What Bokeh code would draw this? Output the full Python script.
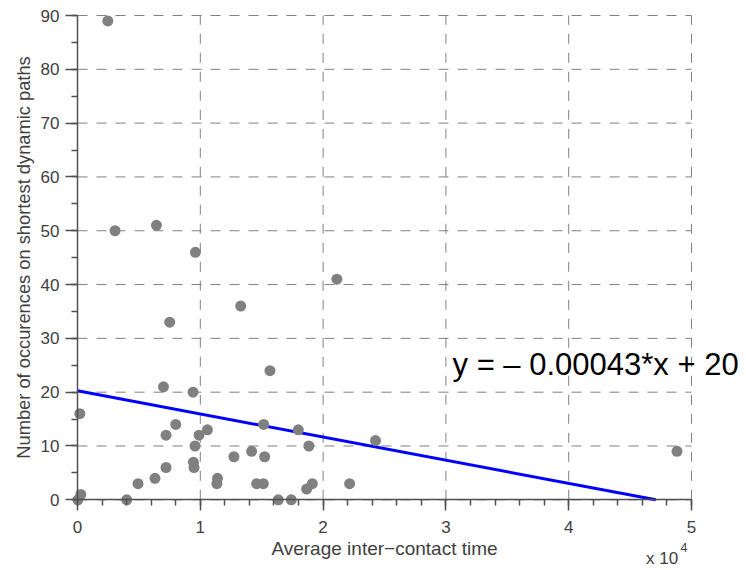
from bokeh.plotting import figure
from bokeh.models import Range1d, FixedTicker, Label, ColumnDataSource
from bokeh.embed import file_html
from bokeh.resources import INLINE

# ---- data ----
inter_contact_time = [2470, 3060, 6430, 9600, 21120, 13290, 7510, 15670, 7000, 9410,
                      190, 8000, 7210, 10580, 9900, 9570, 9440, 9490, 7210, 6310,
                      4930, 4010, 270, 30, 11350, 11400, 15160, 17980, 18840, 12740,
                      14180, 15240, 14590, 15130, 16350, 17410, 18660, 19120, 22160,
                      24270, 48820]
occurrences = [89, 50, 51, 46, 41, 36, 33, 24, 21, 20,
               16, 14, 12, 13, 12, 10, 7, 6, 6, 4,
               3, 0, 1, 0, 3, 4, 14, 13, 10, 8,
               9, 8, 3, 3, 0, 0, 2, 3, 3,
               11, 9]
fit_slope = -0.00043
fit_intercept = 20.25
equation_text = "y = \u2013 0.00043*x + 20"
x_ticks = [0, 10000, 20000, 30000, 40000, 50000]
x_tick_labels = ["0", "1", "2", "3", "4", "5"]
y_ticks = [0, 10, 20, 30, 40, 50, 60, 70, 80, 90]
x_label = "Average inter\u2212contact time"
y_label = "Number of occurences on shortest dynamic paths"
exponent_base = "x 10"
exponent_power = "4"

FONT = "Liberation Sans"
TICK_COLOR = "#404040"
AXIS_COLOR = "#505050"

x_lo, x_hi = x_ticks[0], x_ticks[-1]
y_lo, y_hi = y_ticks[0], y_ticks[-1]

# ---- layout geometry (pixels) ----
CANVAS_W, CANVAS_H = 745, 570
AX_LEFT, AX_RIGHT = 77, 691      # pixel columns of x = 0 and x = 5e4
AX_TOP, AX_BOTTOM = 15, 499.3    # pixel rows of y = 90 and y = 0
x_per_px = (x_hi - x_lo) / (AX_RIGHT - AX_LEFT)
y_per_px = (y_hi - y_lo) / (AX_BOTTOM - AX_TOP)
x_range = Range1d(x_lo - AX_LEFT * x_per_px, x_lo + (CANVAS_W - AX_LEFT) * x_per_px)
y_range = Range1d(y_lo - (CANVAS_H - AX_BOTTOM) * y_per_px, y_hi + AX_TOP * y_per_px)

# the frame covers the whole canvas, the axes sit at fixed positions inside it
p = figure(output_backend="svg", toolbar_location=None,
           frame_width=CANVAS_W, frame_height=CANVAS_H,
           x_range=x_range, y_range=y_range)
p.min_border = 0
p.outline_line_color = None
p.background_fill_color = "white"
p.border_fill_color = "white"
p.xgrid.visible = False
p.ygrid.visible = False

# axes
p.xaxis.ticker = FixedTicker(ticks=x_ticks,
                             minor_ticks=list(range(x_lo, x_hi + 1, 2000)))
p.xaxis.major_label_overrides = {t: l for t, l in zip(x_ticks, x_tick_labels)}
p.yaxis.ticker = FixedTicker(ticks=y_ticks, minor_ticks=list(range(y_lo, y_hi + 1, 5)))
p.xaxis.bounds = (x_lo, x_hi)
p.yaxis.bounds = (y_lo, y_hi)
p.xaxis.fixed_location = y_lo
p.yaxis.fixed_location = x_lo

for ax in (p.xaxis[0], p.yaxis[0]):
    ax.axis_line_color = AXIS_COLOR
    ax.axis_line_width = 1.5
    ax.major_tick_line_color = AXIS_COLOR
    ax.minor_tick_line_color = AXIS_COLOR
    ax.major_tick_line_width = 1.5
    ax.minor_tick_line_width = 1.5
    ax.major_tick_in = 0
    ax.minor_tick_in = 0
    ax.major_label_text_font = FONT
    ax.major_label_text_font_size = "17px"
    ax.major_label_text_color = TICK_COLOR
    ax.axis_label_text_font = FONT
    ax.axis_label_text_font_style = "normal"
    ax.axis_label_text_color = TICK_COLOR

p.xaxis.axis_label_text_font_size = "19px"
p.yaxis.axis_label_text_font_size = "18.3px"
p.xaxis.major_tick_out = 11
p.xaxis.minor_tick_out = 6
p.yaxis.major_tick_out = 12
p.yaxis.minor_tick_out = 6
p.xaxis.major_label_standoff = 10
p.yaxis.major_label_standoff = 6
p.xaxis.axis_label = x_label
p.yaxis.axis_label = y_label
p.xaxis.axis_label_standoff = 2
p.yaxis.axis_label_standoff = 4

# dashed grid, limited to the axes' extent
grid_style = dict(line_color="#808080", line_width=1, line_dash="10 9",
                  level="underlay")
p.segment(x0=x_ticks, x1=x_ticks, y0=[y_lo] * len(x_ticks),
          y1=[y_hi] * len(x_ticks), **grid_style)
p.segment(x0=[x_lo] * len(y_ticks), x1=[x_hi] * len(y_ticks),
          y0=y_ticks, y1=y_ticks, **grid_style)

# regression line
x_end = -fit_intercept / fit_slope
line_x = [x_lo, x_end]
line_y = [fit_intercept + fit_slope * v for v in line_x]
p.line(line_x, line_y, line_color="#0000ff", line_width=3)

# points
src = ColumnDataSource(dict(x=inter_contact_time, y=occurrences))
p.scatter("x", "y", source=src, size=11, fill_color="#808080",
          line_color=None)

# equation
p.add_layout(Label(x=30540, y=25.2, text=equation_text,
                   text_font=FONT, text_font_size="31px",
                   text_color="black", text_align="left",
                   text_baseline="alphabetic"))

# exponent label
p.add_layout(Label(x=46300, y=-10.9, text=exponent_base,
                   text_font=FONT, text_font_size="17px",
                   text_color=TICK_COLOR, text_align="left",
                   text_baseline="alphabetic"))
p.add_layout(Label(x=49100, y=-8.9, text=exponent_power,
                   text_font=FONT, text_font_size="12.5px",
                   text_color=TICK_COLOR, text_align="left",
                   text_baseline="alphabetic"))

open("out.html", "w").write(file_html(p, INLINE))
